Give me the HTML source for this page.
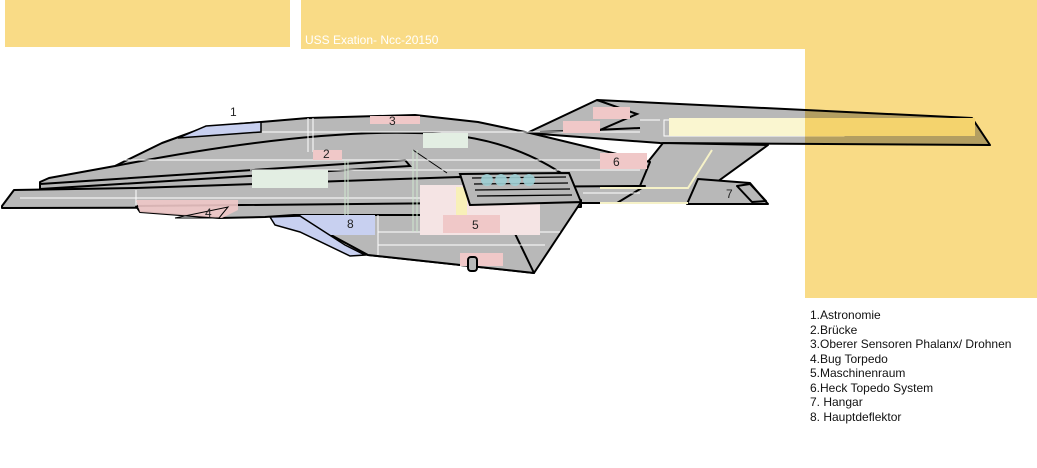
<!DOCTYPE html>
<html><head><meta charset="utf-8"><style>
html,body{margin:0;padding:0;background:#fff;}
body{width:1037px;height:468px;position:relative;overflow:hidden;font-family:"Liberation Sans",sans-serif;}
.legend{position:absolute;left:810px;top:308px;font-size:12px;line-height:14.5px;color:#111;}
</style></head><body>
<svg width="1037" height="468" style="position:absolute;left:0;top:0" font-family="Liberation Sans, sans-serif">
<rect x="5" y="0" width="285" height="47" fill="#f9db86"/>
<rect x="301" y="0" width="736" height="49" fill="#f9db86"/>
<text x="305" y="44" font-size="12" fill="#fff">USS Exation- Ncc-20150</text>
<g stroke="#000" stroke-width="2" stroke-linejoin="round" fill="#b8b8b8">
<polygon points="527,133 597,100 972,118 990,145 660,143"/>
<polygon points="663,143 768,145 688,203 615,203"/>
<polygon points="698,179 750,183 768,204 687,204"/>
<polygon points="737,186 750,184 766,201 752,202" fill="none"/>
<polygon points="560,186 645,186 617,203 560,203"/>
<polygon points="40,182 49,178 115,166 162,143 206,127 261,122 308,118 415,115 478,122 530,133 650,162 640,186 40,190"/>
<polygon points="2,206 14,190 136,188 460,177 581,200 581,207 2,208"/>
<polygon points="136,206 140,212 219,218 265,217 294,215 368,255 534,273 581,202"/>
<polygon points="294,215 506,215 534,273 368,255"/>
</g>
<g fill="none" stroke="#000" stroke-width="2">
<path d="M115,166 Q300,130 415,133 Q500,133 561,173"/>
<polygon points="40,184 405,160 410,166 40,189" fill="#b8b8b8"/>
<path d="M530,133 L640,128"/>
<path d="M597,100 L637,114 L600,130 L540,132"/>
</g>
<line x1="413" y1="150" x2="447" y2="173" stroke="#000" stroke-width="1"/>
<g stroke="#fff" stroke-width="1" fill="none">
<line x1="260" y1="132" x2="640" y2="132"/><line x1="120" y1="160" x2="600" y2="160"/>
<line x1="250" y1="170" x2="640" y2="170"/><line x1="20" y1="198" x2="460" y2="198"/>
<line x1="136" y1="190" x2="136" y2="206"/><line x1="378" y1="232" x2="560" y2="232"/>
<line x1="378" y1="245" x2="545" y2="245"/><line x1="378" y1="215" x2="378" y2="255"/>
<line x1="583" y1="193" x2="640" y2="193"/><line x1="640" y1="120" x2="660" y2="120"/>
<rect x="664" y="120" width="180" height="16"/>
<line x1="308" y1="118" x2="308" y2="152"/><line x1="313" y1="118" x2="313" y2="152"/>
<line x1="345" y1="160" x2="345" y2="215" stroke="#cfe8cf"/><line x1="348" y1="160" x2="348" y2="215" stroke="#cfe8cf"/>
<line x1="413" y1="150" x2="413" y2="232" stroke="#cfe8cf"/><line x1="417" y1="150" x2="417" y2="232" stroke="#cfe8cf"/>
<path d="M688,203 L600,203 M712,150 L688,188 L600,188" stroke="#f6f2c8" stroke-width="2"/>
</g>
<g>
<rect x="370" y="116" width="50" height="8" fill="#f0c8c8"/>
<rect x="313" y="150" width="29" height="10" fill="#f0c8c8"/>
<polygon points="136,200 238,200 238,210 222,218 140,212" fill="#f0c8c8" opacity="0.9"/>
<polygon points="175,218 228,207 219,218" fill="none" stroke="#000" stroke-width="1"/>
<rect x="252" y="170" width="76" height="18" fill="#e3eee3"/>
<rect x="423" y="133" width="45" height="15" fill="#e3eee3"/>
<rect x="420" y="185" width="120" height="50" fill="#f5e4e4"/>
<rect x="443" y="215" width="57" height="18" fill="#f0c8c8"/>
<rect x="456" y="187" width="11" height="28" fill="#f8f0b8"/>
<rect x="600" y="153" width="47" height="16" fill="#f0c8c8"/>
<rect x="593" y="107" width="37" height="12" fill="#f0c8c8"/>
<rect x="563" y="121" width="37" height="12" fill="#f0c8c8"/>
<rect x="669" y="118" width="306" height="18" fill="#faf6d0"/>
<polygon points="300,215 375,215 375,235 330,235" fill="#c8d0f0"/>
<polygon points="270,217 300,216 345,245 365,255 350,256 300,232 275,225" fill="#c8d0f0" stroke="#000" stroke-width="1.5"/>
<polygon points="178,138 206,126 261,122 261,132" fill="#c8d0f0" stroke="#000" stroke-width="1.5"/>
<rect x="460" y="253" width="43" height="13" fill="#f0c8c8"/>
<rect x="468" y="257" width="9" height="14" rx="3" fill="#b8b8b8" stroke="#000" stroke-width="2"/>
</g>
<polygon points="460,174 569,173 581,202 470,205" fill="#b8b8b8" stroke="#000" stroke-width="2"/>
<g stroke="#000" stroke-width="1.3" fill="none">
<path d="M472,178 L566,177 M474,184 L568,183 M475,190 L570,189 M477,196 L572,195"/>
</g>
<g fill="#9fd0d4" opacity="0.9"><circle cx="487" cy="180" r="6"/><circle cx="501" cy="180" r="6"/><circle cx="515" cy="180" r="6"/><circle cx="529" cy="180" r="6"/></g>
<g font-size="12" fill="#222">
<text x="230" y="116">1</text><text x="389" y="125">3</text><text x="323" y="158">2</text>
<text x="205" y="217">4</text><text x="347" y="228">8</text><text x="472" y="229">5</text>
<text x="613" y="166">6</text><text x="726" y="198">7</text>
</g>
<rect x="805" y="49" width="232" height="249" fill="#f9db86" style="mix-blend-mode:multiply"/>
</svg>
<div class="legend">1.Astronomie<br>2.Brücke<br>3.Oberer Sensoren Phalanx/ Drohnen<br>4.Bug Torpedo<br>5.Maschinenraum<br>6.Heck Topedo System<br>7. Hangar<br>8. Hauptdeflektor</div>
</body></html>
